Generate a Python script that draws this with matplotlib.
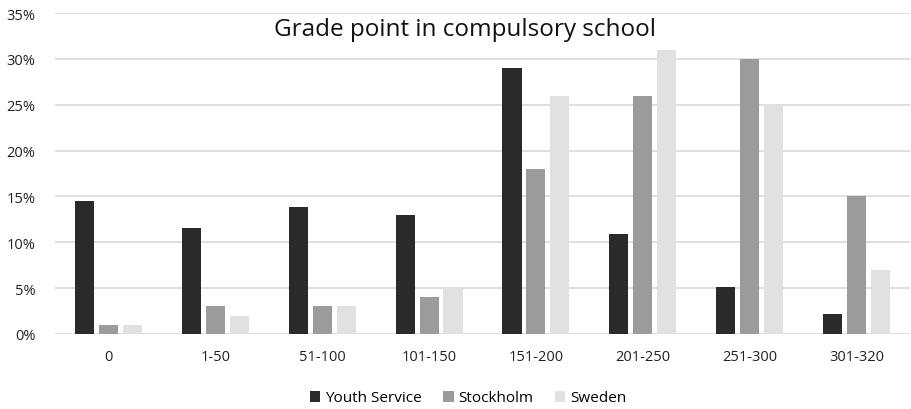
import matplotlib
matplotlib.use("Agg")
import matplotlib.pyplot as plt
import numpy as np
from matplotlib.ticker import PercentFormatter

categories = ["0", "1-50", "51-100", "101-150", "151-200", "201-250", "251-300", "301-320"]
youth_service = [14.5, 11.6, 13.8, 13.0, 29.0, 10.9, 5.1, 2.2]
stockholm = [1, 3, 3, 4, 18, 26, 30, 15]
sweden = [1, 2, 3, 5, 26, 31, 25, 7]
series_names = ["Youth Service", "Stockholm", "Sweden"]
colors = ["#2a2a2a", "#9b9b9b", "#e1e1e1"]

plt.rcParams['font.family'] = ['Open Sans', 'DejaVu Sans']

fig = plt.figure(figsize=(9.11, 4.10), dpi=100)
ax = fig.add_axes([55/911, 75/410, 855/911, 321/410])

x = np.arange(len(categories))
w = 0.178
step = 0.224
for i, (vals, name, c) in enumerate(zip([youth_service, stockholm, sweden], series_names, colors)):
    ax.bar(x + (i - 1) * step, vals, width=w, color=c, label=name, zorder=3)

ax.set_xlim(-0.5, len(categories) - 0.5)
ax.set_ylim(0, 35)
ax.set_yticks(np.arange(0, 36, 5))
ax.yaxis.set_major_formatter(PercentFormatter(decimals=0))
ax.set_xticks(x)
ax.set_xticklabels(categories)
ax.grid(axis='y', color='#d9d9d9', linewidth=1.2, zorder=0)
for s in ax.spines.values():
    s.set_visible(False)
ax.tick_params(axis='both', length=0, labelsize=10.5, colors='#222222')
ax.tick_params(axis='x', pad=11)
ax.tick_params(axis='y', pad=14)

ax.text(0.479, 0.95, "Grade point in compulsory school", transform=ax.transAxes,
        ha='center', va='center', fontsize=17.5, color='#111111')

fig.legend(loc='center', bbox_to_anchor=(468/911, 1 - 399/410), ncol=3, frameon=False,
           fontsize=11, handlelength=0.7, handleheight=0.7, handletextpad=0.3,
           columnspacing=1.4)

fig.savefig("out.png", dpi=100)
